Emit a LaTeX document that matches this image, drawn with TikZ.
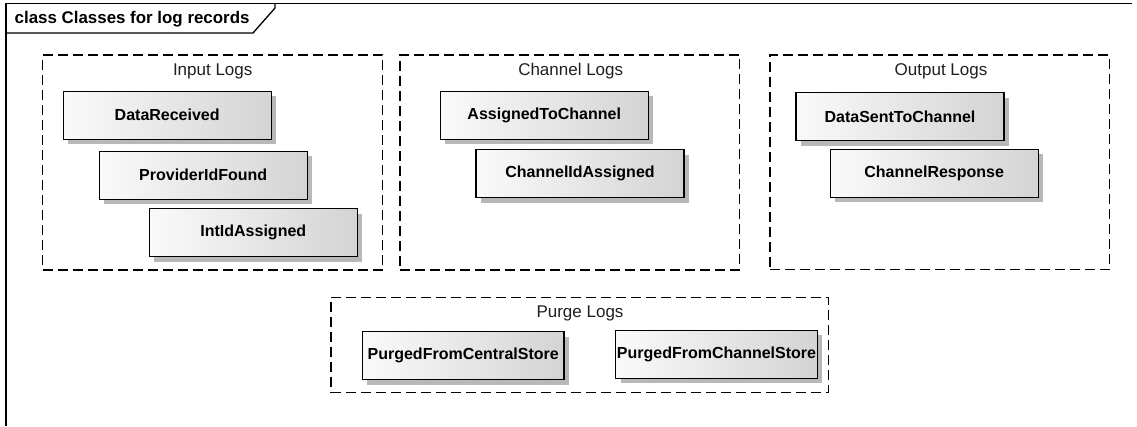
\documentclass[tikz,border=0pt]{standalone}
\usepackage{fontspec}
\setmainfont{Liberation Sans}
\usetikzlibrary{shadows}
\begin{document}
\begin{tikzpicture}[x=1pt,y=-1pt,
  cls/.style={draw=black, line width=1.2pt, left color=black!2, right color=black!17,
    shading angle=90,
    drop shadow={shadow xshift=5pt, shadow yshift=-5pt, fill=black!28, opacity=1},
    font=\bfseries\fontsize{16}{19}\selectfont, minimum width=208pt, minimum height=48pt,
    inner sep=0pt, anchor=center},
  pkg/.style={draw=black, line width=1.2pt, dash pattern=on 10pt off 5pt, inner sep=0pt},
  pkglabel/.style={font=\fontsize{17}{20}\selectfont, text=black!88, inner sep=0pt},
  frame/.style={draw=black, line width=1.3pt}
]
\useasboundingbox (0,0) rectangle (1137,426);
% frame
\coordinate (ftl) at (6,3.5);
\coordinate (ftr) at (1132,3.5);
\coordinate (fbl) at (6,426);
\draw[frame] (ftr) -- (ftl) -- (fbl);
\draw[frame] (6,33) -- (253,33) -- (275,8) -- (275,3.5);
\node[anchor=west, font=\bfseries\fontsize{16.9}{20}\selectfont, inner sep=0pt] (title) at (14.5,19) {class Classes for log records};

% packages
\node[pkg, minimum width=340pt, minimum height=215pt] (input) at (212.7,162.5) {};
\node[pkglabel] (inputlbl) at (212.7,71.5) {Input Logs};
\node[pkg, minimum width=339.3pt, minimum height=215pt] (channel) at (569.7,162.5) {};
\node[pkglabel] (channellbl) at (570.7,71.5) {Channel Logs};
\node[pkg, minimum width=339.3pt, minimum height=214.5pt] (output) at (939.7,162.3) {};
\node[pkglabel] (outputlbl) at (941,71.5) {Output Logs};
\node[pkg, minimum width=497.3pt, minimum height=95.4pt] (purge) at (579.7,345) {};
\node[pkglabel] (purgelbl) at (580,313.3) {Purge Logs};

% classes
\node[cls] (dr) at (167.2,115.2) {DataReceived};
\node[cls] (pif) at (203.2,175.2) {ProviderIdFound};
\node[cls] (iia) at (253.3,232.5) {IntIdAssigned};
\node[cls] (atc) at (544.2,115.2) {AssignedToChannel};
\node[cls] (cia) at (580,173.7) {ChannelIdAssigned};
\node[cls] (dstc) at (900,116.7) {DataSentToChannel};
\node[cls] (cr) at (934.2,173.3) {ChannelResponse};
\node[cls, minimum width=201.7pt] (pfcs) at (463.2,355.8) {PurgedFromCentralStore};
\node[cls, minimum width=201.6pt] (pfchs) at (716.5,354.2) {PurgedFromChannelStore};
\end{tikzpicture}
\end{document}
